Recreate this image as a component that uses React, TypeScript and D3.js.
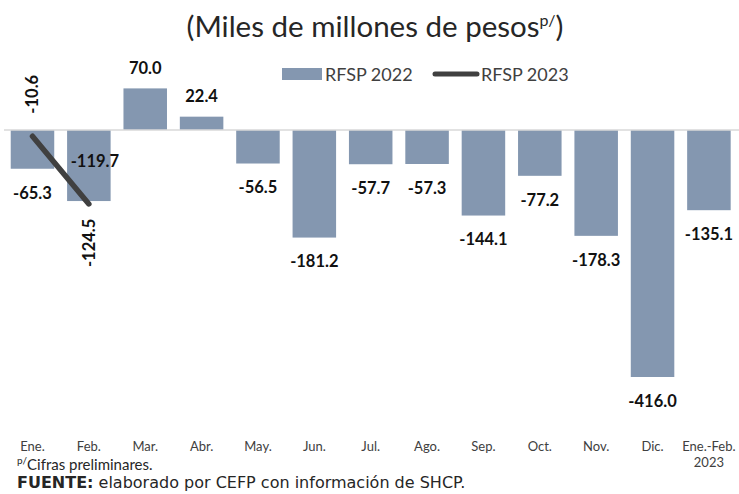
import * as d3 from "d3";

const months = ["Ene.", "Feb.", "Mar.", "Abr.", "May.", "Jun.", "Jul.", "Ago.", "Sep.", "Oct.", "Nov.", "Dic.", "Ene.-Feb."];
const rfsp2022 = [-65.3, -119.7, 70.0, 22.4, -56.5, -181.2, -57.7, -57.3, -144.1, -77.2, -178.3, -416.0, -135.1];
const rfsp2023 = [-10.6, -124.5];

const W = 739;
const H = 494;
const BAR = "#8497B0";
const LINE = "#404040";
const FONT = "Lato, 'DejaVu Sans', sans-serif";

const App = () => {
  const x = d3.scaleBand<string>().domain(months).range([4.3, 737.1]).paddingInner(0.228).paddingOuter(0.114);
  const y = d3.scaleLinear().domain([-416, 70]).range([377, 88.4]);
  const y0 = y(0);
  const cx = (i: number) => (x(months[i]) ?? 0) + x.bandwidth() / 2;

  const line = d3
    .line<number>()
    .x((_, i) => cx(i))
    .y((d) => y(d));

  return (
    <svg width={W} height={H} style={{ position: "absolute", left: 0, top: 0, background: "#fff" }} fontFamily={FONT}>
      {/* title */}
      <text x={375} y={37} textAnchor="middle" fontSize={29.5} fill="#262626">
        (Miles de millones de pesos
        <tspan fontSize={16} dy={-11}>p/</tspan>
        <tspan dy={11}>)</tspan>
      </text>

      {/* legend */}
      <rect x={282} y={68} width={40} height={12} fill={BAR} />
      <text x={325} y={81} fontSize={18} fill="#404040">RFSP 2022</text>
      <line x1={435} x2={477} y1={74} y2={74} stroke={LINE} strokeWidth={5} strokeLinecap="round" />
      <text x={481} y={81} fontSize={18} fill="#404040">RFSP 2023</text>

      {/* bars */}
      {rfsp2022.map((v, i) => (
        <rect
          key={months[i]}
          x={x(months[i])}
          y={Math.min(y(v), y0)}
          width={x.bandwidth()}
          height={Math.abs(y(v) - y0)}
          fill={BAR}
        />
      ))}

      {/* zero line */}
      <line x1={4} x2={739} y1={y0} y2={y0} stroke="#d9d9d9" strokeWidth={1.5} />

      {/* 2022 labels */}
      {rfsp2022.map((v, i) => {
        // Feb label sits inside its bar in the original
        const special = i === 1;
        const ly = special ? y0 + 31 : v >= 0 ? y(v) - 20 : y(v) + 24;
        const lx = special ? cx(i) + 6 : cx(i);
        return (
          <text
            key={"l" + i}
            x={lx}
            y={ly}
            dy="0.35em"
            textAnchor="middle"
            fontSize={16.5}
            fontWeight="bold"
            fill="#111"
          >
            {v.toFixed(1)}
          </text>
        );
      })}

      {/* 2023 line */}
      <path d={line(rfsp2023) || ""} fill="none" stroke={LINE} strokeWidth={5.5} strokeLinecap="round" />
      {rfsp2023.map((v, i) => {
        const ly = i === 0 ? y(v) - 42 : y(v) + 39;
        return (
          <text
            key={"m" + i}
            transform={`translate(${cx(i)},${ly}) rotate(-90)`}
            dy="0.35em"
            textAnchor="middle"
            fontSize={16.5}
            fontWeight="bold"
            fill="#111"
          >
            {v.toFixed(1)}
          </text>
        );
      })}

      {/* x axis labels */}
      {months.map((m, i) => (
        <text key={"x" + i} x={cx(i)} y={451} textAnchor="middle" fontSize={13} fill="#404040">
          {m}
        </text>
      ))}
      <text x={cx(12)} y={467} textAnchor="middle" fontSize={13} fill="#404040">2023</text>

      {/* notes */}
      <text x={17} y={470} fontSize={15} fill="#262626">
        <tspan fontSize={10} dy={-6}>p/</tspan>
        <tspan dy={6}>Cifras preliminares.</tspan>
      </text>
      <text x={17} y={488} fontSize={16} fill="#262626" fontFamily="'DejaVu Sans', sans-serif">
        <tspan fontWeight="bold">FUENTE:</tspan> elaborado por CEFP con información de SHCP.
      </text>
    </svg>
  );
};

export default App;
